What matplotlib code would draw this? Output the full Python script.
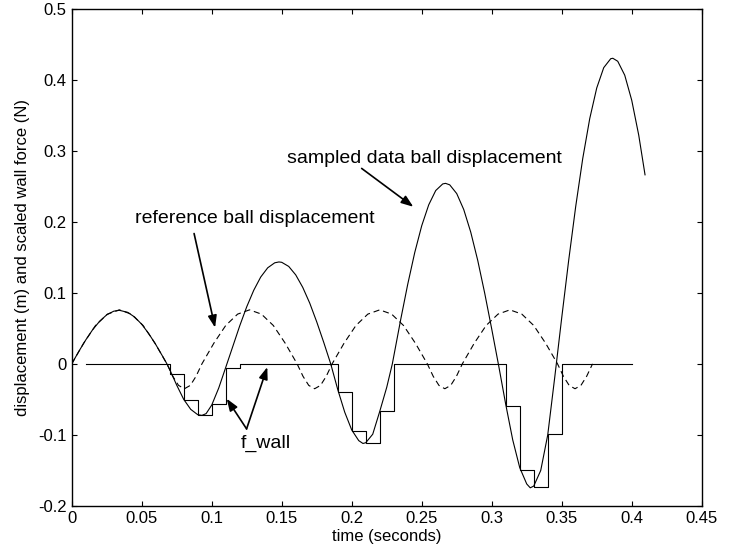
import matplotlib
matplotlib.use('Agg')
import matplotlib.pyplot as plt

plt.rcParams['font.family'] = ['Liberation Sans', 'DejaVu Sans']

sd_t = [0, 0.005, 0.010, 0.015, 0.020, 0.025, 0.030, 0.034, 0.040, 0.045, 0.050, 0.055, 0.060, 0.065, 0.068,
        0.070, 0.075, 0.080, 0.085, 0.090, 0.093, 0.096, 0.100, 0.105, 0.110,
        0.115, 0.120, 0.125, 0.130, 0.135, 0.140, 0.145, 0.148, 0.150, 0.155, 0.160, 0.165, 0.170, 0.175, 0.180, 0.185,
        0.190, 0.195, 0.200, 0.205, 0.208, 0.210, 0.215, 0.220, 0.225, 0.229,
        0.235, 0.240, 0.245, 0.250, 0.255, 0.260, 0.265, 0.267, 0.270, 0.275, 0.280, 0.285, 0.290, 0.295, 0.300, 0.305,
        0.310, 0.315, 0.320, 0.325, 0.3275, 0.330, 0.335, 0.340, 0.345,
        0.350, 0.355, 0.360, 0.365, 0.370, 0.375, 0.380, 0.385, 0.3865, 0.390, 0.395, 0.400, 0.405, 0.4095]
sd_y = [0, 0.0173, 0.0336, 0.0482, 0.0601, 0.0690, 0.0741, 0.0754, 0.0725, 0.0658, 0.0557, 0.0426, 0.0273, 0.0104, 0,
        -0.008, -0.030, -0.050, -0.064, -0.0715, -0.0725, -0.070, -0.058, -0.034, -0.005,
        0.0242, 0.0535, 0.0803, 0.1035, 0.1222, 0.1352, 0.1422, 0.1434, 0.1429, 0.1371, 0.1252, 0.1077, 0.0855, 0.0591, 0.0303, 0,
        -0.036, -0.068, -0.093, -0.108, -0.112, -0.111, -0.099, -0.067, -0.033, 0,
        0.0626, 0.112, 0.1566, 0.1944, 0.2238, 0.2439, 0.2532, 0.254, 0.2519, 0.2396, 0.2172, 0.1854, 0.1456, 0.0993, 0.0490, -0.003,
        -0.057, -0.107, -0.146, -0.169, -0.1744, -0.172, -0.150, -0.100, -0.019,
        0.065, 0.1462, 0.2217, 0.2889, 0.3451, 0.3882, 0.4168, 0.4294, 0.430, 0.4258, 0.4062, 0.3709, 0.3218, 0.266]

# reference ball displacement (dashed)
ref_t = [0, 0.0085, 0.017, 0.0255, 0.034, 0.0425, 0.051, 0.0595, 0.068,
         0.0722, 0.0763, 0.0805, 0.0847, 0.0888, 0.093,
         0.1015, 0.110, 0.1185, 0.127, 0.1355, 0.144, 0.1525, 0.161,
         0.1652, 0.1693, 0.1735, 0.1777, 0.1818, 0.186,
         0.1945, 0.203, 0.2115, 0.220, 0.2285, 0.237, 0.2455, 0.254,
         0.2582, 0.2623, 0.2665, 0.2707, 0.2748, 0.279,
         0.2875, 0.296, 0.3045, 0.313, 0.3215, 0.330, 0.3385, 0.347,
         0.3512, 0.3553, 0.3595, 0.3637, 0.3678, 0.372]
ref_y = [0, 0.029, 0.054, 0.070, 0.076, 0.070, 0.054, 0.029, 0,
         -0.0175, -0.0303, -0.035, -0.0303, -0.0175, 0,
         0.029, 0.054, 0.070, 0.076, 0.070, 0.054, 0.029, 0,
         -0.0175, -0.0303, -0.035, -0.0303, -0.0175, 0,
         0.029, 0.054, 0.070, 0.076, 0.070, 0.054, 0.029, 0,
         -0.0175, -0.0303, -0.035, -0.0303, -0.0175, 0,
         0.029, 0.054, 0.070, 0.076, 0.070, 0.054, 0.029, 0,
         -0.0175, -0.0303, -0.035, -0.0303, -0.0175, 0]

# scaled wall force, one value per 0.01 s sample
fw_t = [0.01, 0.02, 0.03, 0.04, 0.05, 0.06, 0.07, 0.08, 0.09, 0.10,
        0.11, 0.12, 0.13, 0.14, 0.15, 0.16, 0.17, 0.18, 0.19, 0.20,
        0.21, 0.22, 0.23, 0.24, 0.25, 0.26, 0.27, 0.28, 0.29, 0.30,
        0.31, 0.32, 0.33, 0.34, 0.35, 0.36, 0.37, 0.38, 0.39, 0.40]
fw_y = [0, 0, 0, 0, 0, 0, -0.014, -0.051, -0.072, -0.057,
        -0.006, 0, 0, 0, 0, 0, 0, 0, -0.039, -0.095,
        -0.111, -0.066, 0, 0, 0, 0, 0, 0, 0, 0,
        -0.059, -0.149, -0.173, -0.099, 0, 0, 0, 0, 0, 0]

x_ticks = [0, 0.05, 0.1, 0.15, 0.2, 0.25, 0.3, 0.35, 0.4, 0.45]
x_labels = ['0', '0.05', '0.1', '0.15', '0.2', '0.25', '0.3', '0.35', '0.4', '0.45']
y_ticks = [-0.2, -0.1, 0, 0.1, 0.2, 0.3, 0.4, 0.5]
y_labels = ['-0.2', '-0.1', '0', '0.1', '0.2', '0.3', '0.4', '0.5']

fig = plt.figure(figsize=(7.51, 5.5), dpi=100)
ax = fig.add_axes([0.0955, 0.08, 0.8389, 0.9045])

ax.plot(sd_t, sd_y, color='k', lw=0.8)
ax.plot(ref_t, ref_y, color='k', lw=0.8, dashes=(5.5, 3.5))
ax.step(fw_t, fw_y, where='post', color='k', lw=0.8)

ax.set_xlim(0, 0.45)
ax.set_ylim(-0.2, 0.5)
ax.set_xticks(x_ticks)
ax.set_xticklabels(x_labels)
ax.set_yticks(y_ticks)
ax.set_yticklabels(y_labels)
ax.tick_params(direction='in', top=True, right=True, length=3.6, width=0.8, labelsize=12)
for s in ax.spines.values():
    s.set_linewidth(1.0)

ax.set_xlabel('time (seconds)', fontsize=12, labelpad=2)
ax.set_ylabel('displacement (m) and scaled wall force (N)', fontsize=12, labelpad=6)

# labels and arrows
arrow = dict(arrowstyle='-|>,head_length=0.6,head_width=0.22', color='k', lw=1.2,
             mutation_scale=12, shrinkA=0, shrinkB=0)
ax.text(0.154, 0.289, 'sampled data ball displacement', fontsize=14, va='center')
ax.annotate('', xy=(0.244, 0.221), xytext=(0.2071, 0.275), arrowprops=arrow)
ax.text(0.0452, 0.2045, 'reference ball displacement', fontsize=14, va='center')
ax.annotate('', xy=(0.1024, 0.051), xytext=(0.0874, 0.1834), arrowprops=arrow)
ax.text(0.1207, -0.112, 'f_wall', fontsize=14, va='center')
ax.annotate('', xy=(0.1107, -0.049), xytext=(0.1249, -0.0915), arrowprops=arrow)
ax.annotate('', xy=(0.1397, -0.0045), xytext=(0.1249, -0.0915), arrowprops=arrow)

fig.savefig('out.png', dpi=100)
